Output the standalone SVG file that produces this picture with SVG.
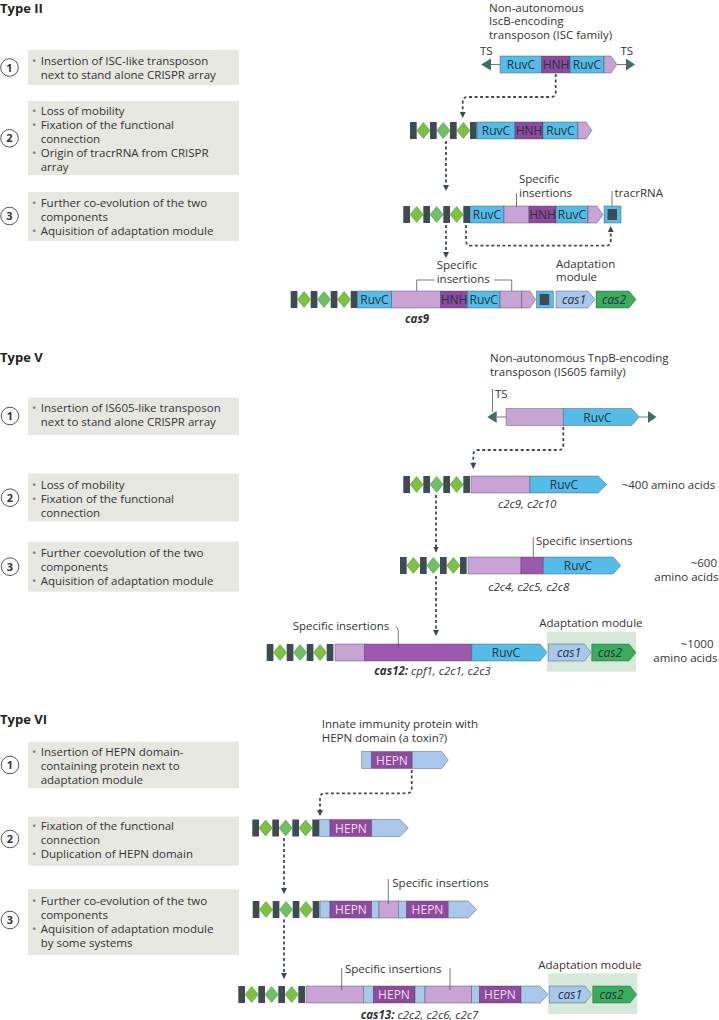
<svg xmlns="http://www.w3.org/2000/svg" width="719" height="1020" viewBox="0 0 719 1020">
<defs>
<style>
text{font-family:'Open Sans','Liberation Sans',Arial,sans-serif;font-size:11.5px;fill:#333}
.h{font-weight:bold;font-size:13px;fill:#222}
.num{font-weight:bold;font-size:11px;text-anchor:middle;fill:#333}
.bul{fill:#7a7a7a}
.c{text-anchor:middle}
.it{font-style:italic}
.bi{font-style:italic;font-weight:bold}
.box{fill:#e7e7e2}
.circ{fill:#fff;stroke:#555;stroke-width:1}
.rep{fill:#3e4b53}
.dia{fill:#7cc142;stroke:#4f8a2a;stroke-width:0.5}
.dia2{fill:#6fbf68;stroke:#4f8a2a;stroke-width:0.5}
.seg{stroke:#3d4a55;stroke-width:0.6;stroke-opacity:0.7}
.blue{fill:#55bce8}
.hnh{fill:#8e4a9d}
.lp{fill:#c9a3d6}
.dp{fill:#9e58ae}
.lb{fill:#a9c7eb}
.c2{fill:#3aac5d}
.ts{fill:#3f6e68}
.tsl{stroke:#777;stroke-width:1}
.lead{stroke:#555;stroke-width:0.8;fill:none}
.conn{fill:none;stroke:#3e4b55;stroke-width:1.8;stroke-dasharray:3 2.5}
.adapt{fill:#d6e9d8}
.g{font-size:12px;fill:#1e3442}
.w{font-size:12px;fill:#ecdff1}
</style>
<marker id="ah" markerWidth="7" markerHeight="7" refX="5" refY="3" orient="auto" markerUnits="userSpaceOnUse"><path d="M0,0 L6,3 L0,6 z" fill="#3e4b55"/></marker>
</defs>
<rect width="719" height="1020" fill="#fff"/>

<!-- ================= TYPE II ================= -->
<g id="t2-title"><text class="h" x="0" y="12.5">Type II</text></g>

<g id="t2-step1">
<rect class="box" x="28" y="50" width="211" height="35"/>
<circle class="circ" cx="9.5" cy="67.5" r="8.8"/><text class="num" x="9.5" y="71.5">1</text>
<text class="bul" x="32" y="65">•</text>
<text x="40.7" y="65">Insertion of ISC-like transposon</text>
<text x="40.7" y="79">next to stand alone CRISPR array</text>
</g>
<g id="t2-step2">
<rect class="box" x="28" y="101" width="211" height="74"/>
<circle class="circ" cx="9.5" cy="138.3" r="8.8"/><text class="num" x="9.5" y="142.3">2</text>
<text class="bul" x="32" y="114.5">•</text><text x="40.7" y="114.5">Loss of mobility</text>
<text class="bul" x="32" y="128.5">•</text><text x="40.7" y="128.5">Fixation of the functional</text>
<text x="40.7" y="142.5">connection</text>
<text class="bul" x="32" y="156.5">•</text><text x="40.7" y="156.5">Origin of tracrRNA from CRISPR</text>
<text x="40.7" y="170.5">array</text>
</g>
<g id="t2-step3">
<rect class="box" x="28" y="192" width="211" height="49"/>
<circle class="circ" cx="9.5" cy="216" r="8.8"/><text class="num" x="9.5" y="220">3</text>
<text class="bul" x="32" y="207">•</text><text x="40.7" y="207">Further co-evolution of the two</text>
<text x="40.7" y="221">components</text>
<text class="bul" x="32" y="235">•</text><text x="40.7" y="235">Aquisition of adaptation module</text>
</g>

<g id="t2-transposon">
<text x="489" y="11.5">Non-autonomous</text>
<text x="489" y="25">IscB-encoding</text>
<text x="489" y="38.5">transposon (ISC family)</text>
<text x="480" y="54.5">TS</text>
<text x="620.5" y="54.5">TS</text>
<line class="tsl" x1="491" y1="64.5" x2="500" y2="64.5"/>
<line class="tsl" x1="617" y1="64.5" x2="626" y2="64.5"/>
<polygon class="ts" points="481,64.5 491,58.5 491,70.5"/>
<polygon class="ts" points="626,58.5 635,64.5 626,70.5"/>
<rect class="blue seg" x="500" y="56" width="41.7" height="17"/>
<rect class="hnh seg" x="541.7" y="56" width="28.3" height="17"/>
<rect class="blue seg" x="570" y="56" width="34" height="17"/>
<polygon class="lp seg" points="604,56 611,56 617,64.5 611,73 604,73"/>
<text class="g c" x="521" y="69">RuvC</text>
<text class="g c" x="556" y="69">HNH</text>
<text class="g c" x="587" y="69">RuvC</text>
</g>

<g id="t2-row2">
<rect class="rep" x="410" y="122" width="6.7" height="17"/>
<rect class="rep" x="430" y="122" width="6.7" height="17"/>
<rect class="rep" x="450" y="122" width="6.7" height="17"/>
<rect class="rep" x="470" y="122" width="6.7" height="17"/>
<polygon class="dia" points="416.7,130.5 423.35,122.5 430,130.5 423.35,138.5"/>
<polygon class="dia2" points="436.7,130.5 443.35,122.5 450,130.5 443.35,138.5"/>
<polygon class="dia" points="456.7,130.5 463.35,122.5 470,130.5 463.35,138.5"/>
<rect class="blue seg" x="477" y="122" width="38" height="17"/>
<rect class="hnh seg" x="515" y="122" width="28" height="17"/>
<rect class="blue seg" x="543" y="122" width="35" height="17"/>
<polygon class="lp seg" points="578,122 586,122 592,130.5 586,139 578,139"/>
<text class="g c" x="496" y="135">RuvC</text>
<text class="g c" x="529" y="135">HNH</text>
<text class="g c" x="560.5" y="135">RuvC</text>
</g>

<g id="t2-row3">
<rect class="rep" x="403.3" y="206" width="6.7" height="17"/>
<rect class="rep" x="423.3" y="206" width="6.7" height="17"/>
<rect class="rep" x="443.3" y="206" width="6.7" height="17"/>
<rect class="rep" x="463.3" y="206" width="6.7" height="17"/>
<polygon class="dia" points="410,214.5 416.65,206.5 423.3,214.5 416.65,222.5"/>
<polygon class="dia2" points="430,214.5 436.65,206.5 443.3,214.5 436.65,222.5"/>
<polygon class="dia" points="450,214.5 456.65,206.5 463.3,214.5 456.65,222.5"/>
<rect class="blue seg" x="470" y="206" width="34" height="17"/>
<rect class="lp seg" x="504" y="206" width="25" height="17"/>
<rect class="hnh seg" x="529" y="206" width="27" height="17"/>
<rect class="blue seg" x="556" y="206" width="32" height="17"/>
<polygon class="lp seg" points="588,206 597,206 603,214.5 597,223 588,223"/>
<rect class="blue seg" x="604" y="206" width="17" height="17"/>
<rect class="rep" x="607.5" y="209" width="9.5" height="11"/>
<text class="g c" x="487" y="219">RuvC</text>
<text class="g c" x="542.5" y="219">HNH</text>
<text class="g c" x="572" y="219">RuvC</text>
<text x="519" y="183">Specific</text>
<text x="519" y="197">insertions</text>
<line class="lead" x1="516.5" y1="193" x2="516.5" y2="207"/>
<text x="614.5" y="197">tracrRNA</text>
<line class="lead" x1="612" y1="191" x2="612" y2="206"/>
</g>

<g id="t2-row4">
<rect class="rep" x="290.7" y="291" width="6.7" height="17"/>
<rect class="rep" x="310.7" y="291" width="6.7" height="17"/>
<rect class="rep" x="330.7" y="291" width="6.7" height="17"/>
<rect class="rep" x="350.7" y="291" width="6.7" height="17"/>
<polygon class="dia" points="297.4,299.5 304.05,291.5 310.7,299.5 304.05,307.5"/>
<polygon class="dia2" points="317.4,299.5 324.05,291.5 330.7,299.5 324.05,307.5"/>
<polygon class="dia" points="337.4,299.5 344.05,291.5 350.7,299.5 344.05,307.5"/>
<rect class="blue seg" x="357.4" y="291" width="34.3" height="17"/>
<rect class="lp seg" x="391.7" y="291" width="49" height="17"/>
<rect class="hnh seg" x="440.7" y="291" width="26.6" height="17"/>
<rect class="blue seg" x="467.3" y="291" width="32.7" height="17"/>
<rect class="lp seg" x="500" y="291" width="21.7" height="17"/>
<polygon class="lp seg" points="521.7,291 530,291 535.7,299.5 530,308 521.7,308"/>
<rect class="blue seg" x="536.5" y="291" width="16.8" height="17"/>
<rect class="rep" x="539.7" y="294" width="9.5" height="11"/>
<text class="g c" x="374.5" y="304">RuvC</text>
<text class="g c" x="454" y="304">HNH</text>
<text class="g c" x="483.7" y="304">RuvC</text>
<text x="436.7" y="269">Specific</text>
<text x="436.7" y="283">insertions</text>
<path class="lead" d="M416.7,291 V280 H434.5 M494,280 H511.7 V291"/>
<text class="bi" x="405" y="323">cas9</text>
</g>

<g id="t2-adaptation">
<text x="556" y="267.5">Adaptation</text>
<text x="556" y="281">module</text>
<polygon class="lb seg" points="556,291 588,291 595,299.5 588,308 556,308"/>
<polygon class="c2 seg" points="596,291 629,291 636,299.5 629,308 596,308"/>
<text class="g it c" x="574" y="304">cas1</text>
<text class="g it c" x="614" y="304">cas2</text>
</g>

<!-- ================= TYPE V ================= -->
<g id="t5-title"><text class="h" x="0" y="362">Type V</text></g>

<g id="t5-step1">
<rect class="box" x="28" y="397.5" width="211" height="37.5"/>
<circle class="circ" cx="10" cy="416" r="8.8"/><text class="num" x="10" y="420">1</text>
<text class="bul" x="32" y="412">•</text><text x="40.7" y="412">Insertion of IS605-like transposon</text>
<text x="40.7" y="426">next to stand alone CRISPR array</text>
</g>
<g id="t5-step2">
<rect class="box" x="28" y="473.5" width="211" height="48"/>
<circle class="circ" cx="10" cy="497.7" r="8.8"/><text class="num" x="10" y="501.7">2</text>
<text class="bul" x="32" y="488.5">•</text><text x="40.7" y="488.5">Loss of mobility</text>
<text class="bul" x="32" y="502.5">•</text><text x="40.7" y="502.5">Fixation of the functional</text>
<text x="40.7" y="516.5">connection</text>
</g>
<g id="t5-step3">
<rect class="box" x="28" y="541.7" width="211" height="50"/>
<circle class="circ" cx="10" cy="566.7" r="8.8"/><text class="num" x="10" y="570.7">3</text>
<text class="bul" x="32" y="557">•</text><text x="40.7" y="557">Further coevolution of the two</text>
<text x="40.7" y="571">components</text>
<text class="bul" x="32" y="585">•</text><text x="40.7" y="585">Aquisition of adaptation module</text>
</g>

<g id="t5-transposon">
<text x="490" y="362">Non-autonomous TnpB-encoding</text>
<text x="490" y="376">transposon (IS605 family)</text>
<text x="495" y="397.5">TS</text>
<line class="lead" x1="492.5" y1="389" x2="492.5" y2="412"/>
<line class="tsl" x1="496.7" y1="417" x2="506" y2="417"/>
<line class="tsl" x1="639.3" y1="417" x2="648" y2="417"/>
<polygon class="ts" points="487.3,417 496.7,411 496.7,423"/>
<polygon class="ts" points="648,411 656.5,417 648,423"/>
<rect class="lp seg" x="506" y="408.5" width="57.3" height="17"/>
<polygon class="blue seg" points="563.3,408.5 631.7,408.5 639.3,417 631.7,425.5 563.3,425.5"/>
<text class="g c" x="597.5" y="421.5">RuvC</text>
</g>

<g id="t5-row2">
<rect class="rep" x="403.3" y="476" width="6.7" height="17"/>
<rect class="rep" x="423.3" y="476" width="6.7" height="17"/>
<rect class="rep" x="443.3" y="476" width="6.7" height="17"/>
<rect class="rep" x="463.3" y="476" width="6.7" height="17"/>
<polygon class="dia" points="410,484.5 416.65,476.5 423.3,484.5 416.65,492.5"/>
<polygon class="dia2" points="430,484.5 436.65,476.5 443.3,484.5 436.65,492.5"/>
<polygon class="dia" points="450,484.5 456.65,476.5 463.3,484.5 456.65,492.5"/>
<rect class="lp seg" x="471" y="476" width="59" height="17"/>
<polygon class="blue seg" points="530,476 598,476 606.7,484.5 598,493 530,493"/>
<text class="g c" x="564" y="489">RuvC</text>
<text class="it" x="498" y="508">c2c9, c2c10</text>
<text x="621.7" y="489">~400 amino acids</text>
</g>

<g id="t5-row3">
<rect class="rep" x="400" y="557" width="6.7" height="17"/>
<rect class="rep" x="420" y="557" width="6.7" height="17"/>
<rect class="rep" x="440" y="557" width="6.7" height="17"/>
<rect class="rep" x="460" y="557" width="6.7" height="17"/>
<polygon class="dia" points="406.7,565.5 413.35,557.5 420,565.5 413.35,573.5"/>
<polygon class="dia2" points="426.7,565.5 433.35,557.5 440,565.5 433.35,573.5"/>
<polygon class="dia" points="446.7,565.5 453.35,557.5 460,565.5 453.35,573.5"/>
<rect class="lp seg" x="468" y="557" width="53" height="17"/>
<rect class="dp seg" x="521" y="557" width="22.3" height="17"/>
<polygon class="blue seg" points="543.3,557 613.3,557 620.7,565.5 613.3,574 543.3,574"/>
<text class="g c" x="578" y="570">RuvC</text>
<text x="536" y="545">Specific insertions</text>
<line class="lead" x1="533.3" y1="537" x2="533.3" y2="557"/>
<text class="it" x="488.3" y="591">c2c4, c2c5, c2c8</text>
<text style="text-anchor:end" x="717" y="567">~600</text>
<text style="text-anchor:end" x="718.5" y="581">amino acids</text>
</g>

<g id="t5-row4">
<rect class="rep" x="266.7" y="644" width="6.7" height="17"/>
<rect class="rep" x="286.7" y="644" width="6.7" height="17"/>
<rect class="rep" x="306.7" y="644" width="6.7" height="17"/>
<rect class="rep" x="326.7" y="644" width="6.7" height="17"/>
<polygon class="dia" points="273.4,652.5 280.05,644.5 286.7,652.5 280.05,660.5"/>
<polygon class="dia2" points="293.4,652.5 300.05,644.5 306.7,652.5 300.05,660.5"/>
<polygon class="dia" points="313.4,652.5 320.05,644.5 326.7,652.5 320.05,660.5"/>
<rect class="lp seg" x="335" y="644" width="29.3" height="17"/>
<rect class="dp seg" x="364.3" y="644" width="107.4" height="17"/>
<polygon class="blue seg" points="471.7,644 540,644 547.3,652.5 540,661 471.7,661"/>
<text class="g c" x="506" y="657">RuvC</text>
<text x="292.7" y="630">Specific insertions</text>
<path class="lead" d="M395.5,626.5 Q398.3,627.5 398.3,630.5 V648"/>
<text x="374.3" y="675"><tspan class="bi">cas12:</tspan><tspan class="it"> cpf1, c2c1, c2c3</tspan></text>
<text style="text-anchor:end" x="713.5" y="648">~1000</text>
<text style="text-anchor:end" x="717.5" y="662">amino acids</text>
</g>

<g id="t5-adaptation">
<rect class="adapt" x="546.7" y="631.7" width="89.3" height="40"/>
<text x="539.3" y="627">Adaptation module</text>
<polygon class="lb seg" points="548.3,644 584.5,644 591,652.5 584.5,661 548.3,661"/>
<polygon class="c2 seg" points="591.7,644 629,644 636,652.5 629,661 591.7,661"/>
<text class="g it c" x="569" y="657">cas1</text>
<text class="g it c" x="610" y="657">cas2</text>
</g>

<!-- ================= TYPE VI ================= -->
<g id="t6-title"><text class="h" x="0" y="723.5">Type VI</text></g>

<g id="t6-step1">
<rect class="box" x="28" y="741.7" width="211" height="46.6"/>
<circle class="circ" cx="10" cy="765" r="8.8"/><text class="num" x="10" y="769">1</text>
<text class="bul" x="32" y="756">•</text><text x="40.7" y="756">Insertion of HEPN domain-</text>
<text x="40.7" y="770">containing protein next to</text>
<text x="40.7" y="784">adaptation module</text>
</g>
<g id="t6-step2">
<rect class="box" x="28" y="816.7" width="211" height="49"/>
<circle class="circ" cx="10" cy="839" r="8.8"/><text class="num" x="10" y="843">2</text>
<text class="bul" x="32" y="830">•</text><text x="40.7" y="830">Fixation of the functional</text>
<text x="40.7" y="844">connection</text>
<text class="bul" x="32" y="858">•</text><text x="40.7" y="858">Duplication of HEPN domain</text>
</g>
<g id="t6-step3">
<rect class="box" x="28" y="889.3" width="211" height="65.7"/>
<circle class="circ" cx="10" cy="920" r="8.8"/><text class="num" x="10" y="924">3</text>
<text class="bul" x="32" y="904.5">•</text><text x="40.7" y="904.5">Further co-evolution of the two</text>
<text x="40.7" y="918.5">components</text>
<text class="bul" x="32" y="932.5">•</text><text x="40.7" y="932.5">Aquisition of adaptation module</text>
<text x="40.7" y="946.5">by some systems</text>
</g>

<g id="t6-protein">
<text x="321.7" y="728">Innate immunity protein with</text>
<text x="321.7" y="742">HEPN domain (a toxin?)</text>
<rect class="lb seg" x="361.7" y="751.5" width="10" height="17"/>
<rect class="hnh seg" x="371.7" y="751.5" width="40.6" height="17"/>
<polygon class="lb seg" points="412.3,751.5 441.7,751.5 448.3,760 441.7,768.5 412.3,768.5"/>
<text class="w c" x="392" y="764.5">HEPN</text>
</g>

<g id="t6-row2">
<rect class="rep" x="252.3" y="819.5" width="6.7" height="17"/>
<rect class="rep" x="272.3" y="819.5" width="6.7" height="17"/>
<rect class="rep" x="292.3" y="819.5" width="6.7" height="17"/>
<rect class="rep" x="312.3" y="819.5" width="6.7" height="17"/>
<polygon class="dia" points="259,828 265.65,820 272.3,828 265.65,836"/>
<polygon class="dia2" points="279,828 285.65,820 292.3,828 285.65,836"/>
<polygon class="dia" points="299,828 305.65,820 312.3,828 305.65,836"/>
<rect class="lb seg" x="319.5" y="819.5" width="10.5" height="17"/>
<rect class="hnh seg" x="330" y="819.5" width="41.7" height="17"/>
<polygon class="lb seg" points="371.7,819.5 400,819.5 408.3,828 400,836.5 371.7,836.5"/>
<text class="w c" x="351" y="832.5">HEPN</text>
</g>

<g id="t6-row3">
<rect class="rep" x="252.7" y="901" width="6.7" height="17"/>
<rect class="rep" x="272.7" y="901" width="6.7" height="17"/>
<rect class="rep" x="292.7" y="901" width="6.7" height="17"/>
<rect class="rep" x="312.7" y="901" width="6.7" height="17"/>
<polygon class="dia" points="259.4,909.5 266.05,901.5 272.7,909.5 266.05,917.5"/>
<polygon class="dia2" points="279.4,909.5 286.05,901.5 292.7,909.5 286.05,917.5"/>
<polygon class="dia" points="299.4,909.5 306.05,901.5 312.7,909.5 306.05,917.5"/>
<rect class="lb seg" x="320" y="901" width="10" height="17"/>
<rect class="hnh seg" x="330" y="901" width="41.7" height="17"/>
<rect class="lb seg" x="371.7" y="901" width="7.3" height="17"/>
<rect class="lp seg" x="379" y="901" width="19.3" height="17"/>
<rect class="lb seg" x="398.3" y="901" width="8.4" height="17"/>
<rect class="hnh seg" x="406.7" y="901" width="41.6" height="17"/>
<polygon class="lb seg" points="448.3,901 468.3,901 476.7,909.5 468.3,918 448.3,918"/>
<text class="w c" x="351" y="914">HEPN</text>
<text class="w c" x="427.5" y="914">HEPN</text>
<text x="392.3" y="887">Specific insertions</text>
<line class="lead" x1="388.3" y1="879" x2="388.3" y2="904"/>
</g>

<g id="t6-row4">
<rect class="rep" x="238.3" y="986" width="6.7" height="17"/>
<rect class="rep" x="258.3" y="986" width="6.7" height="17"/>
<rect class="rep" x="278.3" y="986" width="6.7" height="17"/>
<rect class="rep" x="298.3" y="986" width="6.7" height="17"/>
<polygon class="dia" points="245,994.5 251.65,986.5 258.3,994.5 251.65,1002.5"/>
<polygon class="dia2" points="265,994.5 271.65,986.5 278.3,994.5 271.65,1002.5"/>
<polygon class="dia" points="285,994.5 291.65,986.5 298.3,994.5 291.65,1002.5"/>
<rect class="lp seg" x="306" y="986" width="57.3" height="17"/>
<rect class="lb seg" x="363.3" y="986" width="10" height="17"/>
<rect class="hnh seg" x="373.3" y="986" width="41.7" height="17"/>
<rect class="lb seg" x="415" y="986" width="10" height="17"/>
<rect class="lp seg" x="425" y="986" width="46.7" height="17"/>
<rect class="lb seg" x="471.7" y="986" width="7.6" height="17"/>
<rect class="hnh seg" x="479.3" y="986" width="41.7" height="17"/>
<polygon class="lb seg" points="521,986 540,986 548.3,994.5 540,1003 521,1003"/>
<text class="w c" x="394" y="999">HEPN</text>
<text class="w c" x="500" y="999">HEPN</text>
<text x="345" y="973">Specific insertions</text>
<line class="lead" x1="341.7" y1="968" x2="341.7" y2="990"/>
<line class="lead" x1="450" y1="968" x2="450" y2="990"/>
<text x="360.7" y="1019"><tspan class="bi">cas13:</tspan><tspan class="it"> c2c2, c2c6, c2c7</tspan></text>
</g>

<g id="t6-adaptation">
<rect class="adapt" x="548.3" y="973.3" width="89" height="40.7"/>
<text x="538.3" y="969">Adaptation module</text>
<polygon class="lb seg" points="549.3,986 585,986 591.7,994.5 585,1003 549.3,1003"/>
<polygon class="c2 seg" points="592.7,986 630,986 636.7,994.5 630,1003 592.7,1003"/>
<text class="g it c" x="570" y="999">cas1</text>
<text class="g it c" x="611.5" y="999">cas2</text>
</g>

<!-- ================= CONNECTORS ================= -->
<g id="connectors">
<path class="conn" d="M555.7,74 V92 Q555.7,97 550.7,97 H467.7 Q462.7,97 462.7,102 V117" marker-end="url(#ah)"/>
<path class="conn" d="M446,141 V190" marker-end="url(#ah)"/>
<path class="conn" d="M446,225 V257" marker-end="url(#ah)"/>
<path class="conn" d="M466,225 V240.7 Q466,245.7 471,245.7 H605.7 Q610.7,245.7 610.7,240.7 V227" marker-end="url(#ah)"/>
<path class="conn" d="M563.3,427 V445 Q563.3,450 558.3,450 H478.3 Q473.3,450 473.3,455 V468" marker-end="url(#ah)"/>
<path class="conn" d="M436,495 V551.5" marker-end="url(#ah)"/>
<path class="conn" d="M436,576 V635" marker-end="url(#ah)"/>
<path class="conn" d="M411.7,770 V788.3 Q411.7,793.3 406.7,793.3 H325 Q320,793.3 320,798.3 V815" marker-end="url(#ah)"/>
<path class="conn" d="M284,838 V893" marker-end="url(#ah)"/>
<path class="conn" d="M284,919.5 V978" marker-end="url(#ah)"/>
</g>
</svg>
